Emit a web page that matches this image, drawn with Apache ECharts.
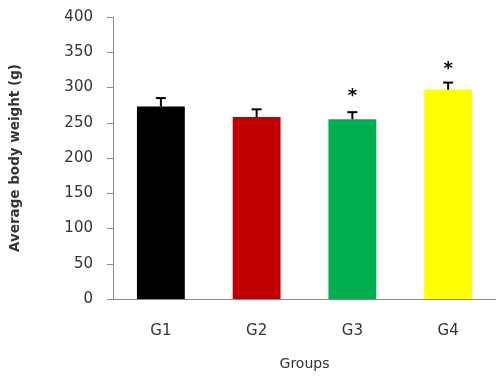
<!DOCTYPE html>
<html>
<head>
<meta charset="utf-8">
<script src="https://cdn.jsdelivr.net/npm/echarts@6/dist/echarts.min.js"></script>
<style>html,body{margin:0;padding:0;background:#fff}#c{width:496px;height:380px}</style>
</head>
<body>
<div id="c"></div>
<script>
var categories = ['G1', 'G2', 'G3', 'G4'];
var weights = [273, 258, 255, 297];
var errors = [12, 11, 10, 10];
var starValues = [null, null, 288, 326];
var barColors = ['#000000', '#C00000', '#00B050', '#FFFF00'];
var yTicks = [0, 50, 100, 150, 200, 250, 300, 350, 400];

var chart = echarts.init(document.getElementById('c'));
var txt = '#333333';
chart.setOption({
  animation: false,
  backgroundColor: '#ffffff',
  grid: { left: 113, right: 0, top: 17, bottom: 81, containLabel: false, outerBoundsMode: 'none' },
  xAxis: {
    type: 'category',
    data: categories,
    name: 'Groups',
    nameLocation: 'middle',
    nameGap: 58,
    nameTextStyle: { color: txt, fontFamily: 'DejaVu Sans', fontSize: 14 },
    axisLine: { lineStyle: { color: '#8a8a8a', width: 1 } },
    axisTick: { show: false },
    axisLabel: { color: txt, fontFamily: 'DejaVu Sans', fontSize: 15, margin: 25 }
  },
  yAxis: {
    type: 'value',
    min: yTicks[0],
    max: yTicks[yTicks.length - 1],
    interval: 50,
    name: 'Average body weight (g)',
    nameLocation: 'middle',
    nameGap: 91,
    nameTextStyle: { color: txt, fontFamily: 'DejaVu Sans', fontSize: 13.5, fontWeight: 'bold' },
    axisLine: { show: true, lineStyle: { color: '#8a8a8a', width: 1 } },
    axisTick: { show: true, length: 6, lineStyle: { color: '#8a8a8a' } },
    splitLine: { show: false },
    axisLabel: { color: txt, fontFamily: 'DejaVu Sans', fontSize: 15, margin: 20 }
  },
  series: [
    {
      type: 'bar',
      barWidth: '50%',
      data: weights.map(function (v, i) { return { value: v, itemStyle: { color: barColors[i] } }; })
    },
    {
      type: 'custom',
      data: weights.map(function (v, i) { return [i, v, v + errors[i]]; }),
      renderItem: function (params, api) {
        var x = api.value(0);
        var p0 = api.coord([x, api.value(1)]);
        var p1 = api.coord([x, api.value(2)]);
        var hw = 5;
        return {
          type: 'group',
          children: [
            { type: 'line', shape: { x1: p0[0], y1: p0[1], x2: p1[0], y2: p1[1] }, style: { stroke: '#000', lineWidth: 2 } },
            { type: 'line', shape: { x1: p1[0] - hw, y1: p1[1], x2: p1[0] + hw, y2: p1[1] }, style: { stroke: '#000', lineWidth: 2 } }
          ]
        };
      },
      z: 5
    },
    {
      type: 'custom',
      data: starValues.map(function (v, i) { return [i, v]; }).filter(function (d) { return d[1] !== null; }),
      renderItem: function (params, api) {
        var p = api.coord([api.value(0), api.value(1)]);
        return {
          type: 'text',
          x: p[0],
          y: p[1],
          style: { text: '*', fill: '#000', fontSize: 18, fontWeight: 'bold', fontFamily: 'DejaVu Sans', align: 'center', verticalAlign: 'middle' }
        };
      },
      z: 6
    }
  ]
});
</script>
</body>
</html>
